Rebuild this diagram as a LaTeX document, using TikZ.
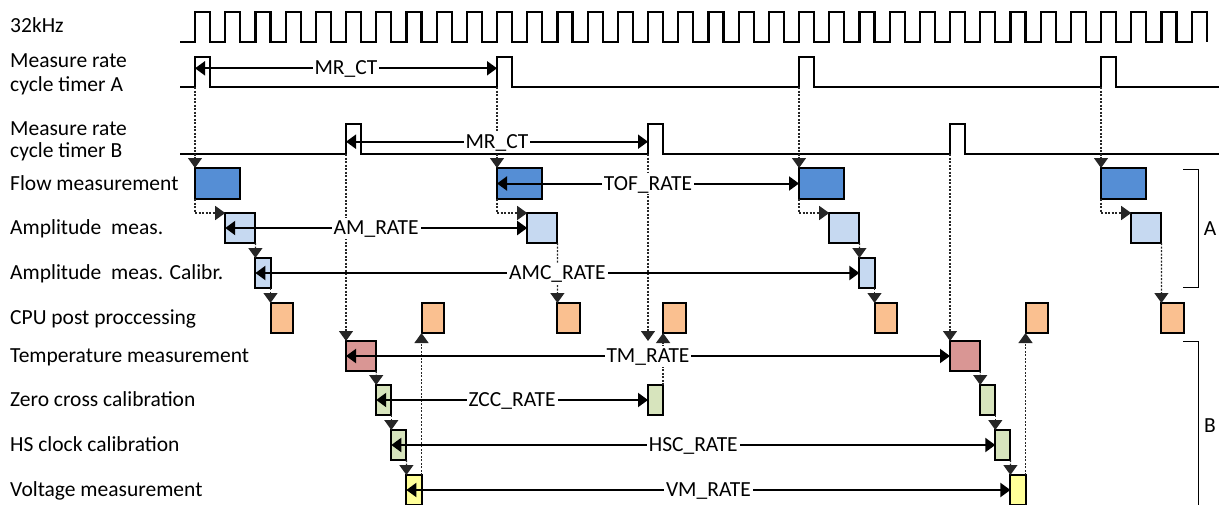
\documentclass[tikz,border=0pt]{standalone}
\usepackage{fontspec}
\setmainfont{Carlito}
\usetikzlibrary{arrows.meta}

\definecolor{flowblue}{RGB}{85,142,213}
\definecolor{ampblue}{RGB}{198,217,241}
\definecolor{cpuorange}{RGB}{250,192,144}
\definecolor{tmred}{RGB}{217,150,148}
\definecolor{calgreen}{RGB}{215,228,189}
\definecolor{vmyellow}{RGB}{255,255,153}

\begin{document}
\begin{tikzpicture}[x=1pt, y=-1pt, >={Triangle[length=10pt, width=14pt]},
    font=\fontsize{21.5}{23}\selectfont,
    sig/.style={line width=2.2pt},
    trig/.style={->, line width=1.3pt, dash pattern=on 2pt off 1.5pt, black!85},
    slot/.style={draw, line width=2pt, inner sep=0pt, outer sep=0pt, anchor=north west,
        minimum width=#1, minimum height=30pt},
    slot/.default=30.2pt,
    rate/.style={<->, line width=2pt},
    ratelbl/.style={fill=white, inner xsep=2pt, inner ysep=1.5pt, text height=15.5pt, text depth=2.5pt},
    rowlbl/.style={anchor=west, inner sep=0pt, text height=15.5pt, text depth=2.5pt}]
    \useasboundingbox (0,0) rectangle (1219,504);
    \clip (0,0) rectangle (1219,504);

    % Row names
    \node[rowlbl] (lclk) at (10,26) {32kHz};
    \node[rowlbl] (lmra1) at (10,60.5) {Measure rate};
    \node[rowlbl] (lmra2) at (10,84.5) {cycle timer A};
    \node[rowlbl] (lmrb1) at (10,128.5) {Measure rate};
    \node[rowlbl] (lmrb2) at (10,151) {cycle timer B};
    \node[rowlbl] (lflow) at (10,183.5) {Flow measurement};
    \node[rowlbl] (lam) at (10,228) {Amplitude\ \ meas.};
    \node[rowlbl] (lamc) at (10,273) {Amplitude\ \ meas. Calibr.};
    \node[rowlbl] (lcpu) at (10,318) {CPU post proccessing};
    \node[rowlbl] (ltm) at (10,356) {Temperature measurement};
    \node[rowlbl] (lzcc) at (10,400) {Zero cross calibration};
    \node[rowlbl] (lhsc) at (10,445) {HS clock calibration};
    \node[rowlbl] (lvm) at (10,490) {Voltage measurement};

    % 32kHz clock
    \draw[sig] (180,42) foreach \i in {0,...,33} { -- ({195+30.2*\i},42) -- ++(0,-30) -- ++(15.1,0) -- ++(0,30) };

    % Cycle timers A and B
    \draw[sig] (180,87) foreach \x in {195,497,799,1101} { -- (\x,87) -- ++(0,-30) -- ++(15.1,0) -- ++(0,30) } -- (1219,87);
    \draw[sig] (180,154) foreach \x in {346,648,950} { -- (\x,154) -- ++(0,-30) -- ++(15.1,0) -- ++(0,30) } -- (1219,154);
    \foreach \x [count=\n] in {195,497,799,1101} \coordinate (pa\n) at (\x,87);
    \foreach \x [count=\n] in {346,648,950} \coordinate (pb\n) at (\x,154);
    \coordinate (mra) at (0,68.3);
    \coordinate (mrb) at (0,141.7);

    % Group A slots
    \foreach \x [count=\n] in {195,497,799,1101}
        \node[slot=45.3pt, minimum height=31pt, fill=flowblue] (fm\n) at (\x,168) {};
    \foreach \x [count=\n] in {225.2,527.2,829.2,1131.2}
        \node[slot, fill=ampblue] (am\n) at (\x,213) {};
    \node[slot=15.1pt, fill=ampblue] (amc1) at (255.4,258) {};
    \node[slot=15.1pt, fill=ampblue] (amc2) at (859.4,258) {};
    \foreach \x [count=\n] in {270.5,421.5,557.4,663.1,874.5,1025.5,1161.4}
        \node[slot=22.65pt, fill=cpuorange] (cpu\n) at (\x,303) {};

    % Group B slots
    \node[slot, fill=tmred] (tm1) at (346,341) {};
    \node[slot, fill=tmred] (tm2) at (950,341) {};
    \foreach \x [count=\n] in {376.2,648,980.2}
        \node[slot=15.1pt, fill=calgreen] (zcc\n) at (\x,385) {};
    \node[slot=15.1pt, fill=calgreen] (hsc1) at (391.3,430) {};
    \node[slot=15.1pt, fill=calgreen] (hsc2) at (995.3,430) {};
    \node[slot=15.1pt, fill=vmyellow] (vm1) at (406.4,475) {};
    \node[slot=15.1pt, fill=vmyellow] (vm2) at (1010.4,475) {};

    % Triggers
    \foreach \n in {1,...,4} {
        \draw[trig] (pa\n) -- (fm\n.north west);
        \draw[trig] (fm\n.south west) |- (am\n.north west);
    }
    \draw[trig] (am1.south east) -- (amc1.north west);
    \draw[trig] (amc1.south east) -- (cpu1.north west);
    \draw[trig] (am2.south east) -- (cpu3.north west);
    \draw[trig] (am3.south east) -- (amc2.north west);
    \draw[trig] (amc2.south east) -- (cpu5.north west);
    \draw[trig] (am4.south east) -- (cpu7.north west);
    \draw[trig] (pb1) -- (tm1.north west);
    \draw[trig] (pb2) -- (pb2 |- tm1.north);
    \draw[trig] (pb3) -- (tm2.north west);
    \draw[trig] (tm1.south east) -- (zcc1.north west);
    \draw[trig] (zcc1.south east) -- (hsc1.north west);
    \draw[trig] (hsc1.south east) -- (vm1.north west);
    \draw[trig] (vm1.north east) -- (cpu2.south west);
    \draw[trig] (zcc2.north east) -- (cpu4.south west);
    \draw[trig] (tm2.south east) -- (zcc3.north west);
    \draw[trig] (zcc3.south east) -- (hsc2.north west);
    \draw[trig] (hsc2.south east) -- (vm2.north west);
    \draw[trig] (vm2.north east) -- (cpu6.south west);

    % Rates
    \draw[rate] (pa1 |- mra) -- node[ratelbl] (mrcta) {MR\_CT} (pa2 |- mra);
    \draw[rate] (pb1 |- mrb) -- node[ratelbl] (mrctb) {MR\_CT} (pb2 |- mrb);
    \draw[rate] (fm2.west) -- node[ratelbl] (tofr) {TOF\_RATE} (fm3.west);
    \draw[rate] (am1.west) -- node[ratelbl] (amr) {AM\_RATE} (am2.west);
    \draw[rate] (amc1.west) -- node[ratelbl] (amcr) {AMC\_RATE} (amc2.west);
    \draw[rate] (tm1.west) -- node[ratelbl] (tmr) {TM\_RATE} (tm2.west);
    \draw[rate] (zcc1.west) -- node[ratelbl] (zccr) {ZCC\_RATE} (zcc2.west);
    \draw[rate] (hsc1.west) -- node[ratelbl] (hscr) {HSC\_RATE} (hsc2.west);
    \draw[rate] (vm1.west) -- node[ratelbl] (vmr) {VM\_RATE} (vm2.west);

    % Brackets
    \draw[line width=1pt] (1183,169) -- (1198,169) -- (1198,287) -- (1183,287);
    \node (bra) at (1210,229) {A};
    \draw[line width=1pt] (1183,341) -- (1198,341) -- (1198,510);
    \node (brb) at (1210,426) {B};
\end{tikzpicture}
\end{document}
